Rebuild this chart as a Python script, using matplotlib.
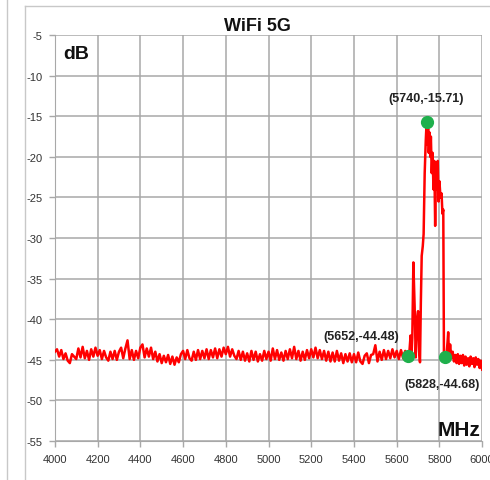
import matplotlib.pyplot as plt
from matplotlib.lines import Line2D

plt.rcParams['font.family'] = ['Liberation Sans', 'DejaVu Sans']
plt.rcParams['axes.unicode_minus'] = False

# baseline noise, 4000-5640 MHz every 10 MHz
base_freq = list(range(4000, 5650, 10))
base_db = [
    -44.0, -43.7, -44.6, -43.8, -44.9, -44.2, -45.1, -45.4, -44.3, -44.6,
    -44.9, -43.6, -44.7, -43.4, -44.8, -43.9, -45.0, -43.7, -44.6, -43.5,
    -44.5, -43.8, -44.9, -43.9, -44.7, -45.1, -44.0, -44.9, -43.9, -45.0,
    -44.0, -43.5, -44.8, -43.6, -42.6, -44.9, -43.8, -45.0, -43.9, -44.8,
    -43.5, -43.1, -44.7, -43.6, -44.6, -43.5, -44.9, -44.0, -45.2, -44.3,
    -45.4, -44.5, -45.3, -44.4, -45.5, -44.6, -45.6, -44.7, -45.3, -44.3,
    -43.9, -44.9, -43.8, -44.8, -45.1, -44.0, -45.0, -43.8, -44.9, -43.9,
    -44.8, -43.7, -44.9, -43.8, -44.7, -43.6, -44.8, -43.7, -44.6, -43.5,
    -44.3, -43.4, -44.6, -43.7, -44.5, -44.9, -43.9, -45.0, -44.0, -45.1,
    -44.2, -45.2, -43.9, -45.0, -44.0, -45.2, -44.3, -45.1, -43.9, -44.9,
    -44.0, -45.1, -43.6, -44.9, -43.8, -45.0, -44.1, -45.1, -43.9, -44.9,
    -43.7, -44.8, -43.4, -44.9, -43.9, -45.1, -44.0, -45.0, -43.8, -44.8,
    -43.7, -44.7, -43.5, -44.8, -43.8, -44.9, -43.9, -45.1, -44.0, -45.2,
    -44.1, -45.2, -43.9, -45.1, -44.2, -45.4, -44.3, -45.2, -44.2, -45.3,
    -44.3, -45.3, -44.1, -45.2, -45.5, -44.5, -44.2, -45.4, -44.4, -44.3,
    -43.2, -45.2, -44.0, -45.0, -43.8, -44.9, -43.9, -44.8, -43.7, -44.7,
    -43.9, -44.9, -43.8, -44.8, -43.9,
]

# the 5G channel and the tail up to 6000 MHz
band_freq = [
    5652, 5660, 5665, 5669, 5673, 5678, 5684, 5689, 5695, 5700,
    5705, 5709, 5713, 5717, 5722, 5726, 5731, 5736, 5740, 5744,
    5747, 5750, 5754, 5757, 5760, 5764, 5768, 5772, 5776, 5780,
    5784, 5788, 5792, 5796, 5800, 5805, 5810, 5814, 5818, 5821,
    5824, 5828, 5834, 5838, 5841, 5845, 5850, 5856, 5862, 5868,
    5874, 5880, 5886, 5892, 5898, 5904, 5910, 5916, 5922, 5928,
    5934, 5940, 5946, 5952, 5958, 5964, 5970, 5976, 5982, 5988,
    5994, 6000,
]
band_db = [
    -44.48, -43.8, -42.0, -44.5, -42.3, -33.0, -38.5, -44.7, -40.0, -39.0,
    -44.0, -45.3, -38.0, -32.2, -31.0, -29.5, -22.0, -18.0, -15.71, -18.5,
    -16.5, -19.5, -17.0, -20.0, -17.5, -22.0, -19.5, -24.0, -20.5, -28.5,
    -21.0, -24.0, -20.5, -25.5, -23.0, -25.0, -24.5, -27.0, -26.5, -44.0,
    -45.2, -44.68, -44.1, -42.8, -41.6, -44.6, -43.1, -44.8, -44.0, -45.2,
    -44.4, -45.4, -44.3, -45.5, -44.5, -45.4, -44.4, -45.7, -44.6, -45.6,
    -44.8, -45.8, -44.6, -45.5, -44.8, -45.9, -44.7, -45.6, -44.9, -46.0,
    -45.1, -46.2,
]

# marked points
mark_freq = [5652, 5740, 5828]
mark_db = [-44.48, -15.71, -44.68]
mark_labels = ['(5652,-44.48)', '(5740,-15.71)', '(5828,-44.68)']

freq = base_freq + band_freq
db = base_db + band_db

fig = plt.figure(figsize=(4.9, 4.81), dpi=100)
ax = fig.add_axes([0.112, 0.081, 0.872, 0.844])

ax.plot(freq, db, color='#ff0000', lw=1.8, zorder=3)
ax.plot(mark_freq, mark_db, 'o', color='#1fb04c', ms=8.5, zorder=4)

ax.set_xlim(4000, 6000)
ax.set_ylim(-55, -5)
ax.set_xticks(range(4000, 6001, 200))
ax.set_yticks(range(-55, -4, 5))
ax.grid(True, color='#a8a8a8', lw=1.1)
ax.set_axisbelow(True)
for s in ax.spines.values():
    s.set_visible(False)
ax.spines['left'].set_visible(True)
ax.spines['bottom'].set_visible(True)
ax.spines['left'].set_color('#a8a8a8')
ax.spines['bottom'].set_color('#a8a8a8')
ax.tick_params(length=4, width=1, color='#a8a8a8', labelsize=8,
               labelcolor='#333333', pad=5)

# point labels
bold = dict(fontsize=9, fontweight='bold', color='#222222')
ax.annotate(mark_labels[0], (mark_freq[0], mark_db[0]), xytext=(-6, 14),
            textcoords='offset points', ha='right', va='center', **bold)
ax.annotate(mark_labels[1], (mark_freq[1], mark_db[1]), xytext=(0, 17),
            textcoords='offset points', ha='center', va='center', **bold)
fig.text(0.98, 1 - 385 / 481, mark_labels[2], ha='right', va='center', **bold)

ax.text(0.02, 0.975, 'dB', transform=ax.transAxes, ha='left', va='top',
        fontsize=14, fontweight='bold', color='#111111')
fig.text(0.98, 1 - 430 / 481, 'MHz', ha='right', va='center',
         fontsize=15, fontweight='bold', color='#111111')
fig.text(0.525, 0.945, 'WiFi 5G', ha='center', va='center',
         fontsize=13, fontweight='bold', color='#111111')

# chart frame and edge of neighbouring panel
fig.add_artist(Line2D([0.051, 0.051], [0, 0.986], color='#c8c8c8', lw=1))
fig.add_artist(Line2D([0.051, 1.0], [0.986, 0.986], color='#c8c8c8', lw=1))
fig.add_artist(Line2D([0.015, 0.015], [0, 1.0], color='#c8c8c8', lw=1))

plt.savefig('out.png', dpi=100)
